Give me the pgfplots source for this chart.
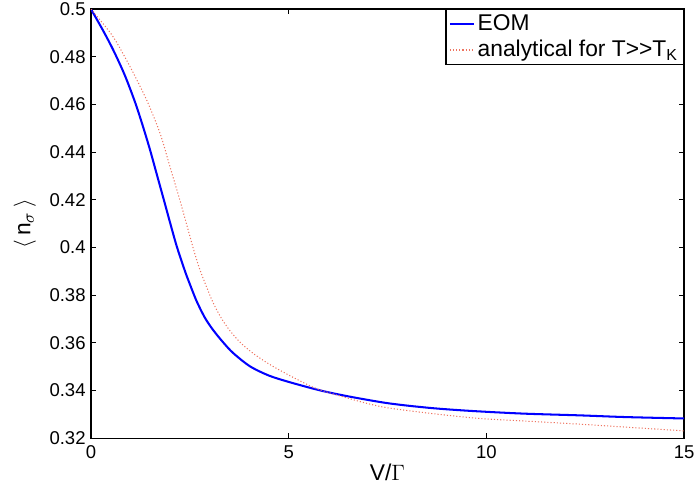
\documentclass[border=0pt]{standalone}
\usepackage{pgfplots}
\pgfplotsset{compat=1.18}
\usepackage{fontspec}
\setmainfont{Liberation Sans}
\definecolor{anared}{RGB}{238,115,95}
\begin{document}
\begin{tikzpicture}
\begin{axis}[
  scale only axis,
  width=320.2pt, height=231.7pt,
  xmin=0, xmax=15, ymin=0.32, ymax=0.5,
  xtick={0,5,10,15},
  ytick={0.32,0.34,0.36,0.38,0.4,0.42,0.44,0.46,0.48,0.5},
  /pgf/number format/assume math mode=true,
  tick label style={font=\fontsize{10}{12}\selectfont},
  tick align=inside,
  xtick pos=both, ytick pos=both,
  xticklabel pos=left, yticklabel pos=left,
  major tick length=2.7pt,
  axis line style={line width=0.7pt},
  every tick/.style={black, line width=0.5pt},
  yticklabel style={inner sep=0pt, xshift=-2.7pt},
  xticklabel style={inner sep=0pt, yshift=-3.8pt},
  xlabel={V/$\Gamma$},
  ylabel={$\langle$\,n$_{\sigma}$\,$\rangle$},
  label style={font=\fontsize{12.3}{14}\selectfont},
  xlabel style={at={(axis description cs:0.5,-0.0793)}, anchor=center, inner sep=0pt},
  ylabel style={at={(axis description cs:-0.1113,0.5)}, anchor=center, inner sep=0pt},
  legend style={at={(1,1)}, anchor=north east, draw=black, line width=0.6pt,
    font=\fontsize{12.3}{14}\selectfont, inner xsep=1.5pt, inner ysep=0.5pt,
    row sep=0pt, nodes={inner xsep=1.5pt, inner ysep=2pt}},
  legend cell align=left,
  legend image code/.code={\draw[#1] (0pt,0pt) -- (13pt,0pt);},
]
\addplot[blue, line width=1.1pt, smooth, tension=0.5] coordinates {
(0,0.5) (0.3,0.4912) (0.565,0.4828) (0.85,0.4725) (1.11,0.4612) (1.3,0.4516)
(1.49,0.4412) (1.66,0.4310) (1.83,0.4208) (2.0,0.4105) (2.17,0.4005)
(2.38,0.3900) (2.5,0.3847) (2.67,0.3776) (2.88,0.3706) (3.09,0.3654)
(3.35,0.3601) (3.6,0.3557) (4.02,0.3502) (4.5,0.3463) (5.03,0.3435)
(5.79,0.3401) (6.5,0.3376) (7.39,0.3350) (8.0,0.3337)
(8.66,0.3326) (9.3,0.3318) (10.0,0.3311) (11.0,0.3303) (12.37,0.3296)
(13.5,0.3289) (15,0.3283)
};
\addlegendentry{EOM}
\addplot[anared, line width=0.55pt, dash pattern=on 0.6pt off 1.1pt, smooth, tension=0.5] coordinates {
(0,0.5) (0.1,0.4980) (0.56,0.4884) (0.99,0.4758) (1.41,0.4618) (1.75,0.4478)
(2.0,0.4338) (2.25,0.4198) (2.59,0.3995) (2.76,0.3905) (2.93,0.3832)
(3.09,0.3768) (3.3,0.3703) (3.52,0.3650) (3.8,0.3598) (4.11,0.3555)
(4.45,0.3517) (4.78,0.3485) (5.2,0.3448) (5.71,0.3408) (6.5,0.3368)
(7.39,0.3331) (8.66,0.3303)
(9.84,0.3283) (11.0,0.3272) (12.37,0.3259) (13.5,0.3247) (15,0.3231)
};
\addlegendentry{analytical for T>{}>T\textsubscript{K}}
\end{axis}
\pgfresetboundingbox
\path ([shift={(-49.1pt,-26.5pt)}]current axis.south west) rectangle ([shift={(5.9pt,4.9pt)}]current axis.north east);
\end{tikzpicture}
\end{document}
